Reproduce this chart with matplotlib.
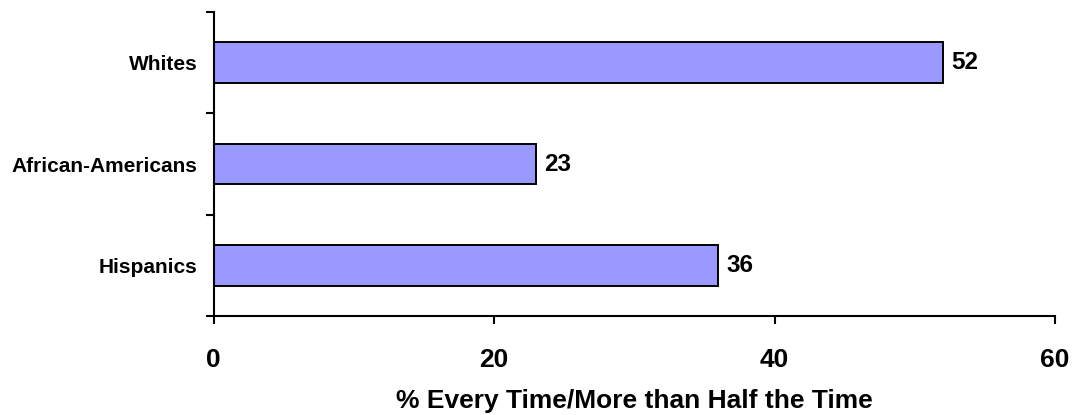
import matplotlib
matplotlib.use("Agg")
import matplotlib.pyplot as plt

groups = ["Whites", "African-Americans", "Hispanics"]
pct = [52, 23, 36]
xticks = [0, 20, 40, 60]

plt.rcParams["font.family"] = ["Liberation Sans", "DejaVu Sans"]
plt.rcParams["font.weight"] = "bold"

fig = plt.figure(figsize=(10.72, 4.15), dpi=100)
ax = fig.add_axes([213.5 / 1072, 99 / 415, 841.5 / 1072, 304 / 415])

ypos = list(range(len(groups)))[::-1]
bars = ax.barh(ypos, pct, height=0.4, color="#9999ff", edgecolor="black", linewidth=1.4)
for b, v in zip(bars, pct):
    ax.annotate(f"{v}", (v, b.get_y() + b.get_height() / 2), xytext=(6, 0),
                textcoords="offset points", va="center", ha="left",
                fontsize=17.5, fontweight="bold")

ax.set_xlim(0, 60)
ax.set_ylim(-0.5, 2.5)
ax.set_xticks(xticks)
ax.set_xticklabels([str(t) for t in xticks], fontsize=19, fontweight="bold")
ax.tick_params(axis="x", direction="out", length=6, width=1.5, pad=17)

# category ticks sit at the boundaries, labels in the middle
ax.set_yticks([-0.5, 0.5, 1.5, 2.5])
ax.set_yticklabels([])
ax.set_yticks(ypos, minor=True)
ax.set_yticklabels(groups, minor=True, fontsize=15, fontweight="bold")
ax.tick_params(axis="y", which="major", direction="out", length=6, width=1.5)
ax.tick_params(axis="y", which="minor", length=0, pad=11.5)

for s in ["top", "right"]:
    ax.spines[s].set_visible(False)
for s in ["left", "bottom"]:
    ax.spines[s].set_linewidth(1.5)

ax.set_xlabel("% Every Time/More than Half the Time", fontsize=19, fontweight="bold", labelpad=12)

fig.savefig("out.png", dpi=100)
